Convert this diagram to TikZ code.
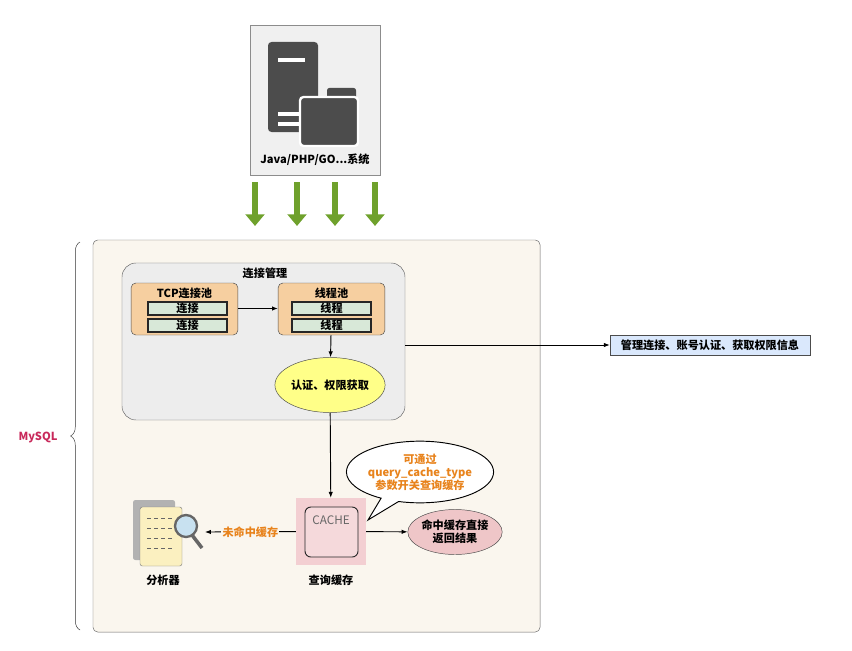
\documentclass[tikz,border=0pt]{standalone}
\usepackage{fontspec}
\setmainfont{Noto Sans CJK SC}
\usetikzlibrary{shapes.geometric,shapes.callouts,decorations.pathreplacing,arrows.meta}
\definecolor{poolfill}{HTML}{F6CFA0}
\definecolor{itemfill}{HTML}{D8E8D8}
\definecolor{mysqlfill}{HTML}{FAF6EE}
\definecolor{grnarrow}{HTML}{6FA12C}
\definecolor{cachepink}{HTML}{F3CFD2}
\definecolor{hitpink}{HTML}{EFC6C8}
\definecolor{txtorange}{HTML}{E8831C}
\definecolor{iconfill}{HTML}{FBF0C0}
\tikzset{
  txt/.style={font=\fontsize{9.5}{11}\selectfont\bfseries},
  pool/.style={draw=black!70, fill=poolfill, rounded corners=4pt, minimum width=3.2cm, minimum height=1.56cm},
  item/.style={draw=black!85, fill=itemfill, line width=1pt, minimum width=2.37cm, minimum height=0.39cm, inner sep=0pt, txt},
  link/.style={-{Latex[length=5pt]}, thick},
  down/.style={-{Triangle[width=16pt,length=10pt]}, line width=5pt, grnarrow}
}
\begin{document}
\begin{tikzpicture}[x=0.03cm, y=-0.03cm]
\useasboundingbox (0,0) rectangle (852,650);

% client system
\node[draw=black!45, fill=black!6, minimum width=3.9cm, minimum height=4.5cm] (app) at (315,100) {};
\fill[black!70, rounded corners=3pt] (268,42) rectangle (318,132);
\fill[white] (278,58) rectangle (305,62);
\fill[white] (278,112) rectangle (300,116);
\fill[white] (278,122) rectangle (300,126);
\fill[black!70, rounded corners=2pt] (327,88) rectangle (356,100);
\draw[white, line width=2pt, fill=black!70, rounded corners=3pt] (300,97) rectangle (358,146);
\node[txt] (applbl) at (315,160) {Java/PHP/GO...系统};
\foreach \x in {255,297,335,375}
  \draw[down] (\x,182) -- (\x,226);

% mysql server
\node[draw=black!60, fill=mysqlfill, rounded corners=4pt, minimum width=13.41cm, minimum height=11.76cm] (mysql) at (316.5,436) {};
\draw[decorate, decoration={brace, amplitude=8pt}, black!80] (80,630) -- (80,242);
\node[txt, text={rgb,255:red,200;green,40;blue,90}] (mysqllbl) at (38,437) {MySQL};

% connection management
\node[draw=black!60, fill=black!7, rounded corners=12pt, minimum width=8.49cm, minimum height=4.71cm] (conn) at (263.5,341.5) {};
\node[txt] (connlbl) at (265,273) {连接管理};

\node[pool] (tcp) at (184.5,309) {};
\node[txt] at (184.5,293) {TCP连接池};
\node[item] (c1) at (187.5,308.5) {连接};
\node[item] (c2) at (187.5,325.5) {连接};

\node[pool] (thr) at (331.5,309) {};
\node[txt] at (331.5,293) {线程池};
\node[item] (t1) at (331.5,308.5) {线程};
\node[item] (t2) at (331.5,325.5) {线程};

\draw[link] (tcp.east |- c1) -- (thr.west |- c1);

\node[ellipse, draw=black!70, fill={rgb,255:red,255;green,255;blue,136}, minimum width=2.64cm, minimum height=1.65cm, inner sep=0pt, txt] (auth) at (330,385) {认证、权限获取};
\draw[link] (thr) -- (auth);

\node[draw=black!70, fill={rgb,255:red,218;green,232;blue,252}, minimum width=6cm, minimum height=0.6cm, inner sep=1pt, txt] (info) at (710,345) {管理连接、账号认证、获取权限信息};
\draw[link] (conn.east |- info) -- (info);

% query cache
\node[fill=cachepink, minimum width=2.1cm, minimum height=2.01cm] (cache) at (331,531.5) {};
\node[draw=black!85, thick, fill=cachepink!80, rounded corners=5pt, minimum width=1.59cm, minimum height=1.5cm] (cachein) at (331.5,532) {};
\node[font=\fontsize{10}{11}\selectfont, text=black!60] at (331,520) {CACHE};
\node[txt] (cachelbl) at (331,580) {查询缓存};
\draw[link] (auth) -- (cache);

\node[ellipse callout, draw=black, thick, fill=white, minimum width=3.4cm, minimum height=1.85cm, inner sep=0pt, align=center, txt, text=txtorange, callout absolute pointer={(368,520)}] (tip) at (420,472) {可通过\\query\_cache\_type\\参数开关查询缓存};

\node[ellipse, draw=black!70, fill=hitpink, minimum width=2.7cm, minimum height=1.35cm, inner sep=0pt, align=center, txt] (hit) at (455,532) {命中缓存直接\\返回结果};
\draw[link] (cache) -- (hit);

% parser
\coordinate (parser) at (205,532);
\fill[black!30, rounded corners=2pt] (133,500) rectangle (175,560);
\draw[black!50, fill=iconfill, rounded corners=2pt] (140,507) rectangle (182,566);
\foreach \y in {518,528,538,548}
  \draw[black!60, dashed, thick] (147,\y) -- (172,\y);
\draw[black!60, line width=3pt] (192,535) -- (202,548);
\draw[black!60, line width=2pt, fill={rgb,255:red,200;green,225;blue,240}] (186,526) circle (11);
\node[txt] (parserlbl) at (163,580) {分析器};
\draw[link] (cache) -- (parser) node[midway, fill=mysqlfill, inner sep=1pt, txt, text=txtorange] {未命中缓存};
\end{tikzpicture}
\end{document}
